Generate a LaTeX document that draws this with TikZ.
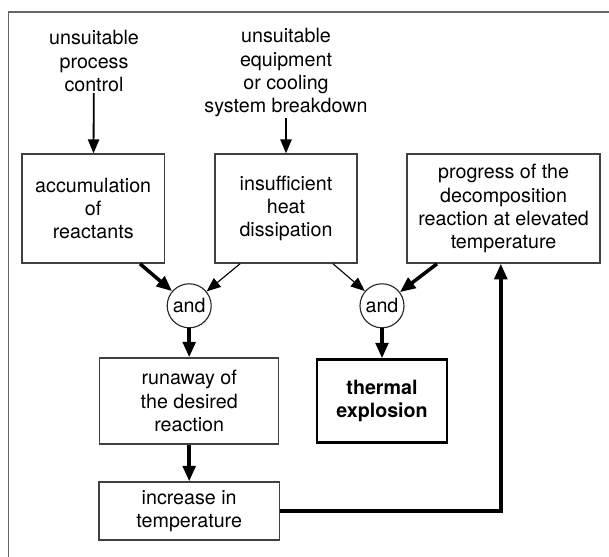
\documentclass[tikz,border=0pt]{standalone}
\usepackage{fontspec}
\setmainfont{TeX Gyre Heros}
\usetikzlibrary{arrows.meta,positioning}

\begin{document}
\begin{tikzpicture}[>={Triangle[length=10pt,width=8pt]},
   font=\fontsize{14}{16.5}\selectfont,
   blk/.style={draw=black!75,line width=1pt,align=center,minimum width=3.55cm,
     minimum height=2.725cm,inner sep=2pt},
   gate/.style={circle,draw=black!85,line width=0.8pt,minimum size=1.1cm,inner sep=0pt},
   cause/.style={align=center,inner sep=1pt},
   heavy/.style={->,line width=2.5pt,>={Triangle[length=11pt,width=9pt]}},
   light/.style={->,line width=0.8pt}]
  \useasboundingbox (0,0) rectangle (15.225,13.925);
  \draw[black!60,line width=1pt] (0.21,0) |- (15.225,13.625);
  % causes
  \node[cause] (ctrl) at (2.35,12.4) {unsuitable\\process\\control};
  \node[cause] (cool) at (7.15,12.11) {unsuitable\\equipment\\or cooling\\system breakdown};
  % first row
  \node[blk] (acc) at (2.33,8.71) {accumulation\\of\\reactants};
  \node[blk] (heat) at (7.15,8.71) {insufficient\\heat\\dissipation};
  \node[blk,minimum width=4.825cm] (prog) at (12.59,8.71)
    {progress of the\\decomposition\\reaction at elevated\\temperature};
  % and gates
  \node[gate] (and1) at (4.73,6.28) {and};
  \node[gate] (and2) at (9.55,6.28) {and};
  % results
  \node[blk,minimum width=4.475cm,minimum height=2.15cm] (run) at (4.73,3.9)
    {runaway of\\the desired\\reaction};
  \node[blk,draw=black,line width=1.8pt,minimum width=3.25cm,minimum height=2.075cm,
    font=\fontsize{14}{16.5}\selectfont\bfseries] (expl) at (9.55,3.9) {thermal\\explosion};
  \node[blk,minimum width=4.5cm,minimum height=1.45cm] (inc) at (4.73,1.15)
    {increase in\\temperature};
  % connectors
  \draw[->,line width=1.3pt] (ctrl) -- (acc);
  \draw[->,line width=1.3pt] (cool) -- (heat);
  \draw[heavy] ([xshift=1.17cm]acc.south) -- (and1);
  \draw[light] ([xshift=-1.15cm]heat.south) -- (and1);
  \draw[light] ([xshift=1.175cm]heat.south) -- (and2);
  \draw[heavy] ([xshift=-1.665cm]prog.south) -- (and2);
  \draw[heavy] (and1) -- (run);
  \draw[heavy] (and2) -- (expl);
  \draw[heavy] (run) -- (inc);
  \draw[heavy] (inc.east) -| ([xshift=-0.07cm]prog.south);
\end{tikzpicture}
\end{document}
